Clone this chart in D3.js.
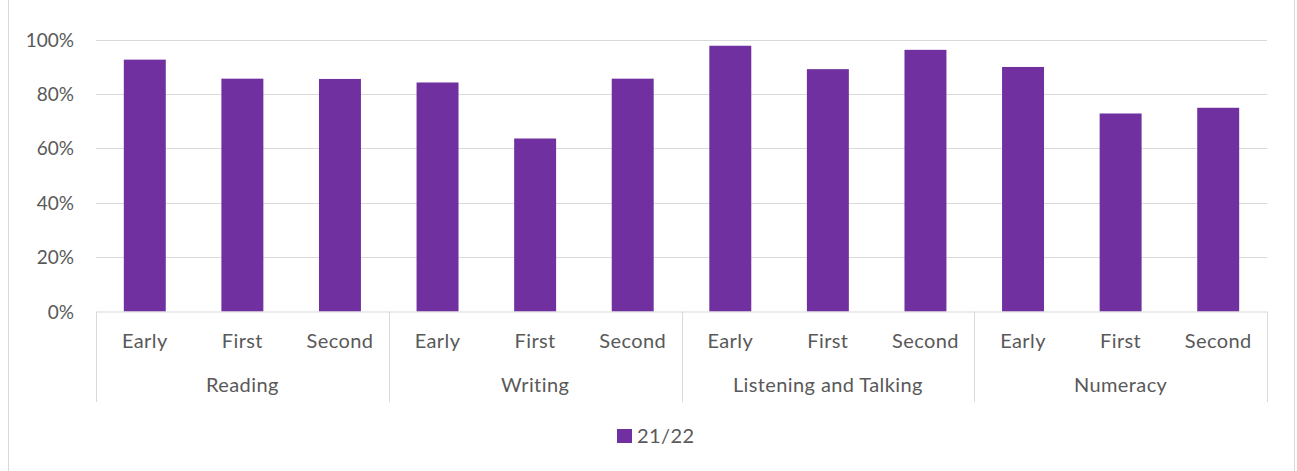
<!DOCTYPE html>
<html>
<head>
<meta charset="utf-8">
<script src="https://cdn.jsdelivr.net/npm/d3@7"></script>
<style>
  body { margin: 0; background: #fff; }
  text { font-family: Lato, "Open Sans", sans-serif; fill: #595959; }
</style>
</head>
<body>
<div id="chart"></div>
<script>
var groups = ["Reading", "Writing", "Listening and Talking", "Numeracy"];
var stages = ["Early", "First", "Second"];
var values = [92.6, 85.6, 85.5, 84.2, 63.6, 85.6, 97.7, 89.1, 96.2, 89.9, 72.8, 74.9];
var yTicks = [0, 20, 40, 60, 80, 100];
var seriesName = "21/22";

var W = 1297, H = 471;
var plotLeft = 96, plotRight = 1267, plotTop = 39.5, plotBottom = 311.5;
var purple = "#7030A0", grid = "#d9d9d9";

var svg = d3.select("#chart").append("svg")
    .attr("width", W)
    .attr("height", H);

// outer frame
svg.append("rect")
    .attr("x", 8.5).attr("y", -2)
    .attr("width", 1286).attr("height", H + 4)
    .attr("fill", "none")
    .attr("stroke", grid);

var cats = [];
groups.forEach(function(g){
    stages.forEach(function(s){ cats.push(g + "|" + s); });
});

var x = d3.scaleBand().domain(cats).range([plotLeft, plotRight]).paddingInner(0.57).paddingOuter(0.285);
var xg = d3.scaleBand().domain(groups).range([plotLeft, plotRight]);
var y = d3.scaleLinear().domain([0, 100]).range([plotBottom, plotTop]);

// gridlines
svg.selectAll(".grid").data(yTicks.slice(1)).enter().append("line")
    .attr("x1", plotLeft).attr("x2", plotRight)
    .attr("y1", function(d){ return Math.round(y(d)) + 0.5; })
    .attr("y2", function(d){ return Math.round(y(d)) + 0.5; })
    .attr("stroke", grid).attr("stroke-width", 1);

// y labels
svg.selectAll(".ylab").data(yTicks).enter().append("text")
    .attr("x", 74)
    .attr("y", function(d){ return y(d) + 7; })
    .attr("text-anchor", "end")
    .style("font-size", "19px")
    .text(function(d){ return d + "%"; });

// bars
svg.selectAll(".bar").data(values).enter().append("rect")
    .attr("x", function(d, i){ return x(cats[i]); })
    .attr("width", x.bandwidth())
    .attr("y", function(d){ return y(d); })
    .attr("height", function(d){ return y(0) - y(d); })
    .attr("fill", purple);

// category axis line
svg.append("line")
    .attr("x1", plotLeft).attr("x2", plotRight)
    .attr("y1", plotBottom + 0.5).attr("y2", plotBottom + 0.5)
    .attr("stroke", grid);

// group separators
var seps = groups.map(function(g){ return xg(g); }).concat([plotRight]);
svg.selectAll(".sep").data(seps).enter().append("line")
    .attr("x1", function(d){ return Math.round(d) + 0.5; })
    .attr("x2", function(d){ return Math.round(d) + 0.5; })
    .attr("y1", plotBottom).attr("y2", 402)
    .attr("stroke", grid);

// stage labels
svg.selectAll(".stage").data(cats).enter().append("text")
    .attr("x", function(d){ return x(d) + x.bandwidth() / 2; })
    .attr("y", 348)
    .attr("text-anchor", "middle")
    .style("font-size", "20px")
    .style("letter-spacing", "0.4px")
    .text(function(d){ return d.split("|")[1]; });

// group labels
svg.selectAll(".group").data(groups).enter().append("text")
    .attr("x", function(d){ return xg(d) + xg.bandwidth() / 2; })
    .attr("y", 392)
    .attr("text-anchor", "middle")
    .style("font-size", "20px")
    .style("letter-spacing", "0.4px")
    .text(function(d){ return d; });

// legend
svg.append("rect")
    .attr("x", 617).attr("y", 429)
    .attr("width", 15).attr("height", 14)
    .attr("fill", purple);
svg.append("text")
    .attr("x", 637).attr("y", 443)
    .style("font-size", "20px")
    .style("letter-spacing", "0.4px")
    .text(seriesName);
</script>
</body>
</html>
